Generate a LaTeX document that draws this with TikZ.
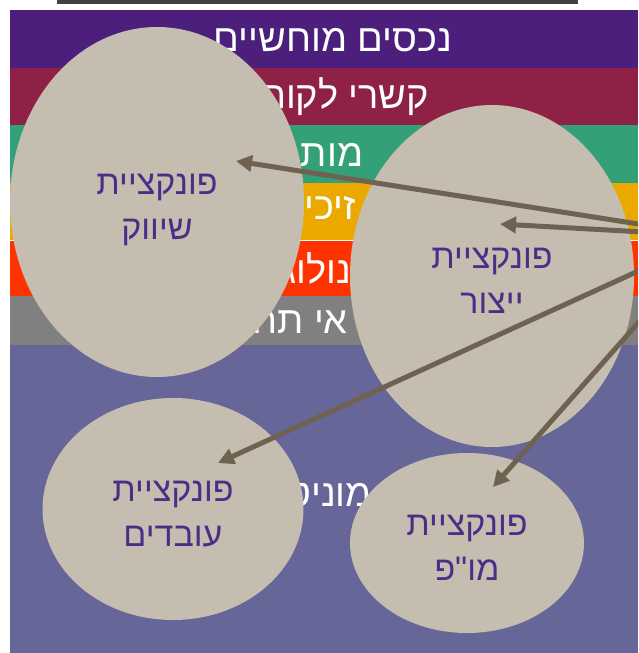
\documentclass[tikz,border=0pt]{standalone}
\usepackage{fontspec}
\newfontfamily\hebfont[Script=Hebrew]{Liberation Sans}
\TeXXeTstate=1
\usetikzlibrary{arrows.meta,shapes.geometric,positioning}
\definecolor{bandTangible}{HTML}{4C1F7C}
\definecolor{bandClients}{HTML}{8E2145}
\definecolor{bandBrand}{HTML}{34A077}
\definecolor{bandFranchise}{HTML}{EBA900}
\definecolor{bandTech}{HTML}{FF3300}
\definecolor{bandNoncomp}{HTML}{808080}
\definecolor{bandGoodwill}{HTML}{666699}
\definecolor{ovalFill}{HTML}{C5BDAF}
\definecolor{ovalText}{HTML}{4E2C87}
\definecolor{arrowBrown}{HTML}{6F6250}

\begin{document}
\begin{tikzpicture}[x=1pt, y=-1pt]
    \tikzset{BandStyle/.style={text=white, inner sep=0pt,
        font=\hebfont\fontsize{38}{38}\selectfont},
      FuncStyle/.style={ellipse, fill=ovalFill, text=ovalText, inner sep=0pt,
        align=center, text height=75pt, text depth=0pt,
        font=\hebfont\fontsize{34}{45}\selectfont},
      LinkStyle/.style={draw=arrowBrown, line width=5pt,
        -{Triangle[length=16pt,width=16pt]}}}
    \useasboundingbox (0,0) rectangle (638,653);
    \clip (0,0) rectangle (638,653);
    \fill[black!75] (57,0) rectangle (578,3.5);
    \fill[bandTangible] (10,10) rectangle (638,68);
    \fill[bandClients] (10,68) rectangle (638,125);
    \fill[bandBrand] (10,125) rectangle (638,183);
    \fill[bandFranchise] (10,183) rectangle (638,240);
    \fill[bandTech] (10,240) rectangle (638,296);
    \fill[bandNoncomp] (10,296) rectangle (638,345);
    \fill[bandGoodwill] (10,345) rectangle (638,653);
    \draw[white, line width=1pt] (10,240) -- (638,240);
    \node[BandStyle] (tangible) at (333,40) {\beginR נכסים מוחשיים\endR};
    \node[BandStyle] (clients) at (327,97) {\beginR קשרי לקוחות\endR};
    \node[BandStyle] (brand) at (324,155) {\beginR מותג\endR};
    \node[BandStyle] (franchise) at (320,212) {\beginR זיכיון\endR};
    \node[BandStyle] (tech) at (322,268) {\beginR טכנולוגיה\endR};
    \node[BandStyle, anchor=east] (noncomp) at (348,322) {\beginR אי תחרות\endR};
    \node[BandStyle, anchor=east] (goodwill) at (372,498) {\beginR מוניטין\endR};
    \node[FuncStyle, minimum width=294pt, minimum height=350pt] (shivuk) at (157,202)
      {\beginR פונקציית\endR\\\beginR שיווק\endR};
    \node[FuncStyle, minimum width=284pt, minimum height=342pt] (yitzur) at (492,276)
      {\beginR פונקציית\endR\\\beginR ייצור\endR};
    \node[FuncStyle, minimum width=261pt, minimum height=222pt] (ovdim) at (173,509)
      {\beginR פונקציית\endR\\\beginR עובדים\endR};
    \node[FuncStyle, minimum width=234pt, minimum height=180pt] (mop) at (467,543)
      {\beginR פונקציית\endR\\\beginR מו"פ\endR};
    \coordinate (source) at (715,236);
    \coordinate (toShivuk) at (236,161);
    \coordinate (toYitzur) at (500,224);
    \coordinate (toOvdim) at (218,463);
    \coordinate (toMop) at (493,487);
    \draw[LinkStyle] (source) -- (toShivuk);
    \draw[LinkStyle] (source) -- (toYitzur);
    \draw[LinkStyle] (source) -- (toOvdim);
    \draw[LinkStyle] (source) -- (toMop);
\end{tikzpicture}
\end{document}
